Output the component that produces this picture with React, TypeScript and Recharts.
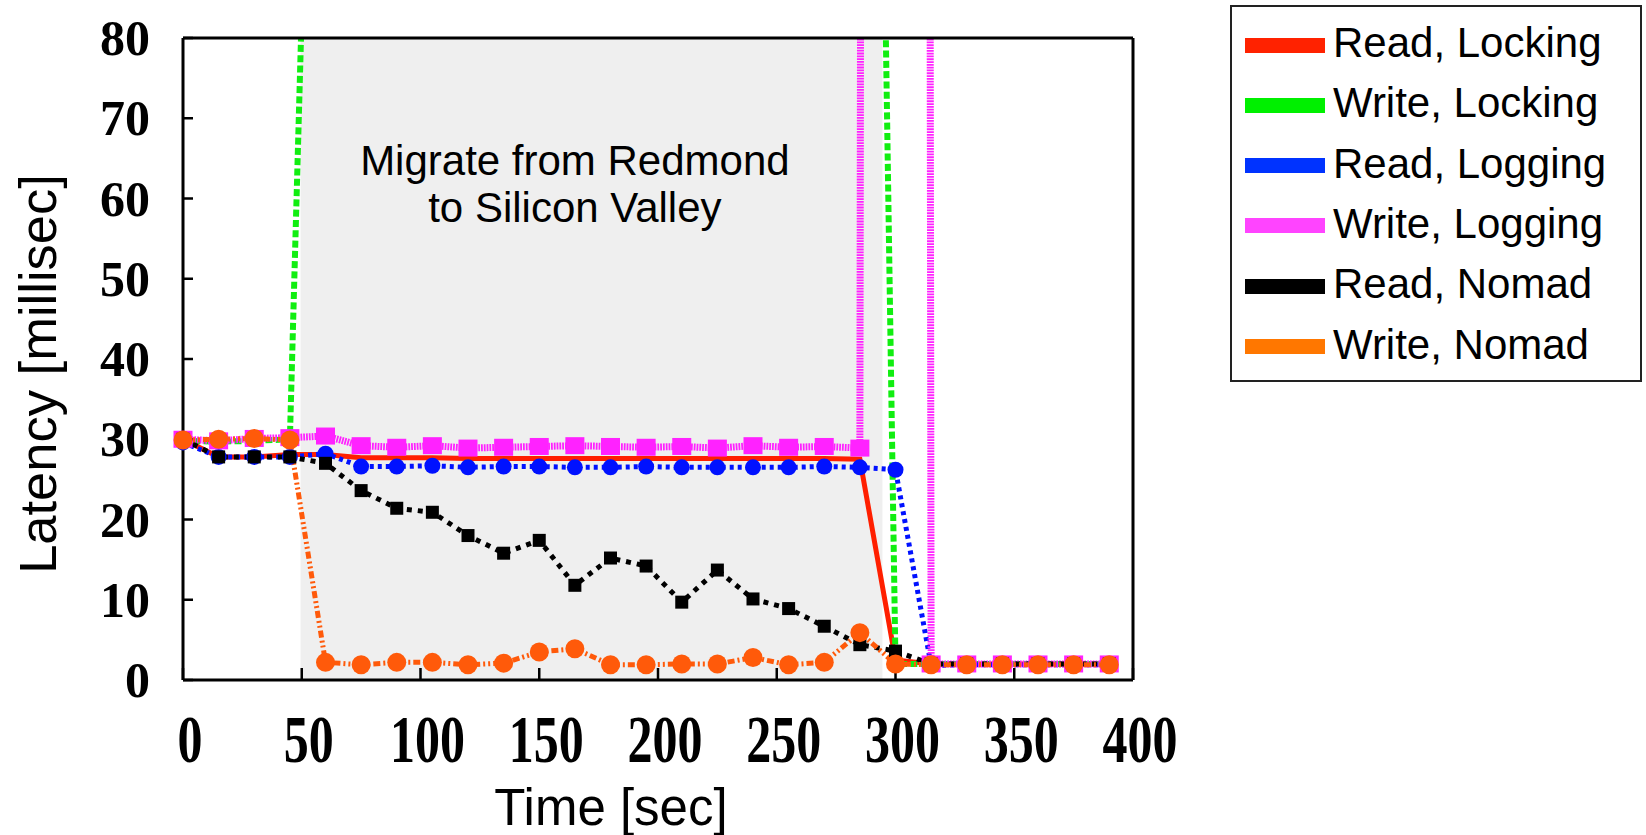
import React from 'react';
import { LineChart, Line, XAxis, YAxis, ReferenceArea, ReferenceLine } from 'recharts';

const SANS = '"Liberation Sans", Arial, sans-serif';
const SERIF = '"Liberation Serif", "Times New Roman", serif';

// sample times, every 15 sec
const times = [0, 15, 30, 45, 60, 75, 90, 105, 120, 135, 150, 165, 180, 195, 210, 225, 240, 255, 270, 285, 300, 315, 330, 345, 360, 375, 390];

const readLocking = [30, 27.8, 27.8, 28.1, 28.1, 27.7, 27.7, 27.7, 27.6, 27.6, 27.6, 27.6, 27.6, 27.6, 27.6, 27.6, 27.6, 27.6, 27.6, 27.5, 2.5, 2, 2, 2, 2, 2, 2];
// goes way off the top while migrating
const writeLocking = [29.8, 29.7, 29.8, 30, 190, 230, 250, 260, 240, 255, 250, 245, 260, 250, 255, 240, 250, 260, 270, 290, 2, 2, 2, 2, 2, 2, 2];
const readLogging = [29.6, 27.8, 27.8, 27.8, 28.2, 26.6, 26.6, 26.7, 26.5, 26.6, 26.6, 26.5, 26.5, 26.6, 26.5, 26.5, 26.5, 26.5, 26.6, 26.5, 26.2, 1.8, 1.9, 1.9, 1.9, 1.9, 1.9];
const writeLogging = [30, 29.8, 30.1, 30.2, 30.4, 29.2, 29, 29.2, 28.9, 29, 29.1, 29.2, 29.1, 29, 29.1, 28.9, 29.2, 29, 29.1, 28.9, 3000, 2, 2, 2, 2, 2, 2];
const readNomad = [30, 27.8, 27.8, 27.8, 27, 23.6, 21.4, 20.9, 18, 15.8, 17.4, 11.8, 15.2, 14.2, 9.7, 13.7, 10.1, 8.9, 6.7, 4.4, 3.6, 2, 2, 2, 2, 2, 2];
const writeNomad = [29.9, 30, 30.1, 29.9, 2.2, 1.9, 2.2, 2.2, 1.9, 2.1, 3.5, 3.9, 1.9, 1.9, 2, 2, 2.8, 1.9, 2.2, 5.9, 2, 1.9, 1.9, 1.9, 1.9, 1.9, 1.9];

const xTicks = [0, 50, 100, 150, 200, 250, 300, 350, 400];
const yTicks = [0, 10, 20, 30, 40, 50, 60, 70, 80];

const migrateStart = 49.5;
const migrateEnd = 294.5;

type Marker = 'none' | 'circle' | 'square' | 'bigsquare' | 'blob';

const series: { key: string; name: string; values: number[]; color: string; swatch: string; width: number; dash?: string; marker: Marker }[] = [
  { key: 'readLocking', name: 'Read, Locking', values: readLocking, color: '#ff1f00', swatch: '#ff2200', width: 5, marker: 'none' },
  { key: 'writeLocking', name: 'Write, Locking', values: writeLocking, color: '#11ee11', swatch: '#00f000', width: 6, dash: '7 3.3', marker: 'none' },
  { key: 'readLogging', name: 'Read, Logging', values: readLogging, color: '#0011ff', swatch: '#0033ff', width: 5, dash: '4 4', marker: 'blob' },
  { key: 'writeLogging', name: 'Write, Logging', values: writeLogging, color: '#ff22ff', swatch: '#ff44ff', width: 7, dash: '1.8 1', marker: 'bigsquare' },
  { key: 'readNomad', name: 'Read, Nomad', values: readNomad, color: '#000000', swatch: '#000000', width: 5, dash: '5 6', marker: 'square' },
  { key: 'writeNomad', name: 'Write, Nomad', values: writeNomad, color: '#ff5a0a', swatch: '#ff7700', width: 5, dash: '7 3 2 3 2 3', marker: 'circle' },
];

const data = times.map((t, i) => {
  const row: any = { time: t };
  series.forEach((s) => {
    row[s.key] = s.values[i];
  });
  return row;
});

const makeDot = (marker: Marker, color: string, key: string) => (props: any) => {
  const { cx, cy, index } = props;
  const k = `${key}-${index}`;
  if (cx == null || cy == null) return <g key={k} />;
  if (marker === 'circle') return <circle key={k} cx={cx} cy={cy} r={9.5} fill={color} />;
  if (marker === 'blob') return <circle key={k} cx={cx} cy={cy} r={8} fill={color} />;
  if (marker === 'square') return <rect key={k} x={cx - 6.5} y={cy - 6.5} width={13} height={13} fill={color} />;
  if (marker === 'bigsquare') return <rect key={k} x={cx - 9.5} y={cy - 8.5} width={19} height={17} fill={color} />;
  return <g key={k} />;
};

const XTick = (props: any) => {
  const { x, y, payload } = props;
  return (
    <text
      transform={`translate(${x + 7},${y + 82}) scale(1,1.35)`}
      textAnchor="middle"
      fontFamily={SERIF}
      fontWeight="bold"
      fontSize={50}
      fill="#000"
    >
      {payload.value}
    </text>
  );
};

const YTick = (props: any) => {
  const { x, y, payload } = props;
  return (
    <text x={x} y={y} dy="0.34em" textAnchor="end" fontFamily={SERIF} fontWeight="bold" fontSize={50} fill="#000">
      {payload.value}
    </text>
  );
};

const Annotation = (props: any) => {
  const vx = props.viewBox && props.viewBox.x != null ? props.viewBox.x : 575;
  return (
    <g fontFamily={SANS} fontSize={42} fill="#000" textAnchor="middle">
      <text x={vx} y={175}>Migrate from Redmond</text>
      <text x={vx} y={222}>to Silicon Valley</text>
    </g>
  );
};

const XTitle = () => (
  <text x={611} y={825} textAnchor="middle" fontFamily={SANS} fontSize={51} fill="#000">
    Time [sec]
  </text>
);

const YTitle = () => (
  <text x={56} y={374} transform="rotate(-90 56 374)" textAnchor="middle" fontFamily={SANS} fontSize={52.5} fill="#000">
    Latency [millisec]
  </text>
);

const axisLine = { stroke: '#000', strokeWidth: 3 };
const tickLine = { stroke: '#000', strokeWidth: 2.5 };

export default function App() {
  return (
    <div style={{ position: 'absolute', left: 0, top: 0, width: 1646, height: 835, background: '#fff' }}>
      <LineChart width={1646} height={835} data={data} margin={{ top: 8, right: 453, bottom: 125, left: 123 }}>
        <XAxis
          dataKey="time"
          type="number"
          domain={[0, 400]}
          ticks={xTicks}
          height={30}
          axisLine={axisLine}
          tickLine={tickLine}
          tickSize={-12}
          tickMargin={12}
          tick={<XTick />}
          interval={0}
          label={XTitle}
        />
        <XAxis
          xAxisId="top"
          orientation="top"
          dataKey="time"
          type="number"
          domain={[0, 400]}
          ticks={xTicks}
          height={30}
          axisLine={axisLine}
          tickLine={tickLine}
          tickSize={-12}
          tick={false}
          interval={0}
        />
        <YAxis
          type="number"
          domain={[0, 80]}
          ticks={yTicks}
          allowDataOverflow
          width={60}
          axisLine={axisLine}
          tickLine={tickLine}
          tickSize={-10}
          tickMargin={43}
          tick={<YTick />}
          interval={0}
          label={YTitle}
        />
        <YAxis
          yAxisId="right"
          orientation="right"
          type="number"
          domain={[0, 80]}
          ticks={yTicks}
          allowDataOverflow
          width={60}
          axisLine={axisLine}
          tickLine={tickLine}
          tickSize={-12}
          tick={false}
          interval={0}
        />
        <ReferenceArea x1={migrateStart} x2={migrateEnd} fill="#efefef" fillOpacity={1} stroke="none" ifOverflow="extendDomain" />
        <ReferenceLine x={165} stroke="#000" strokeOpacity={0} label={Annotation} />
        {series.map((s) => (
          <Line
            key={s.key}
            type="linear"
            dataKey={s.key}
            name={s.name}
            stroke={s.color}
            strokeWidth={s.width}
            strokeDasharray={s.dash}
            dot={s.marker === 'none' ? false : makeDot(s.marker, s.color, s.key)}
            activeDot={false}
            isAnimationActive={false}
          />
        ))}
      </LineChart>
      <div
        style={{
          position: 'absolute',
          left: 1230,
          top: 5,
          width: 412,
          height: 377,
          border: '2px solid #222',
          boxSizing: 'border-box',
          background: '#fff',
        }}
      >
        {series.map((s, i) => (
          <div
            key={s.key}
            style={{ position: 'absolute', left: 13, top: 38 - 20 + i * 60.3, height: 40, display: 'flex', alignItems: 'center' }}
          >
            <div style={{ width: 80, height: 15, background: s.swatch }} />
            <div style={{ marginLeft: 8, fontFamily: SANS, fontSize: 42, lineHeight: '40px', color: '#000', position: 'relative', top: -2, whiteSpace: 'nowrap' }}>
              {s.name}
            </div>
          </div>
        ))}
      </div>
    </div>
  );
}
